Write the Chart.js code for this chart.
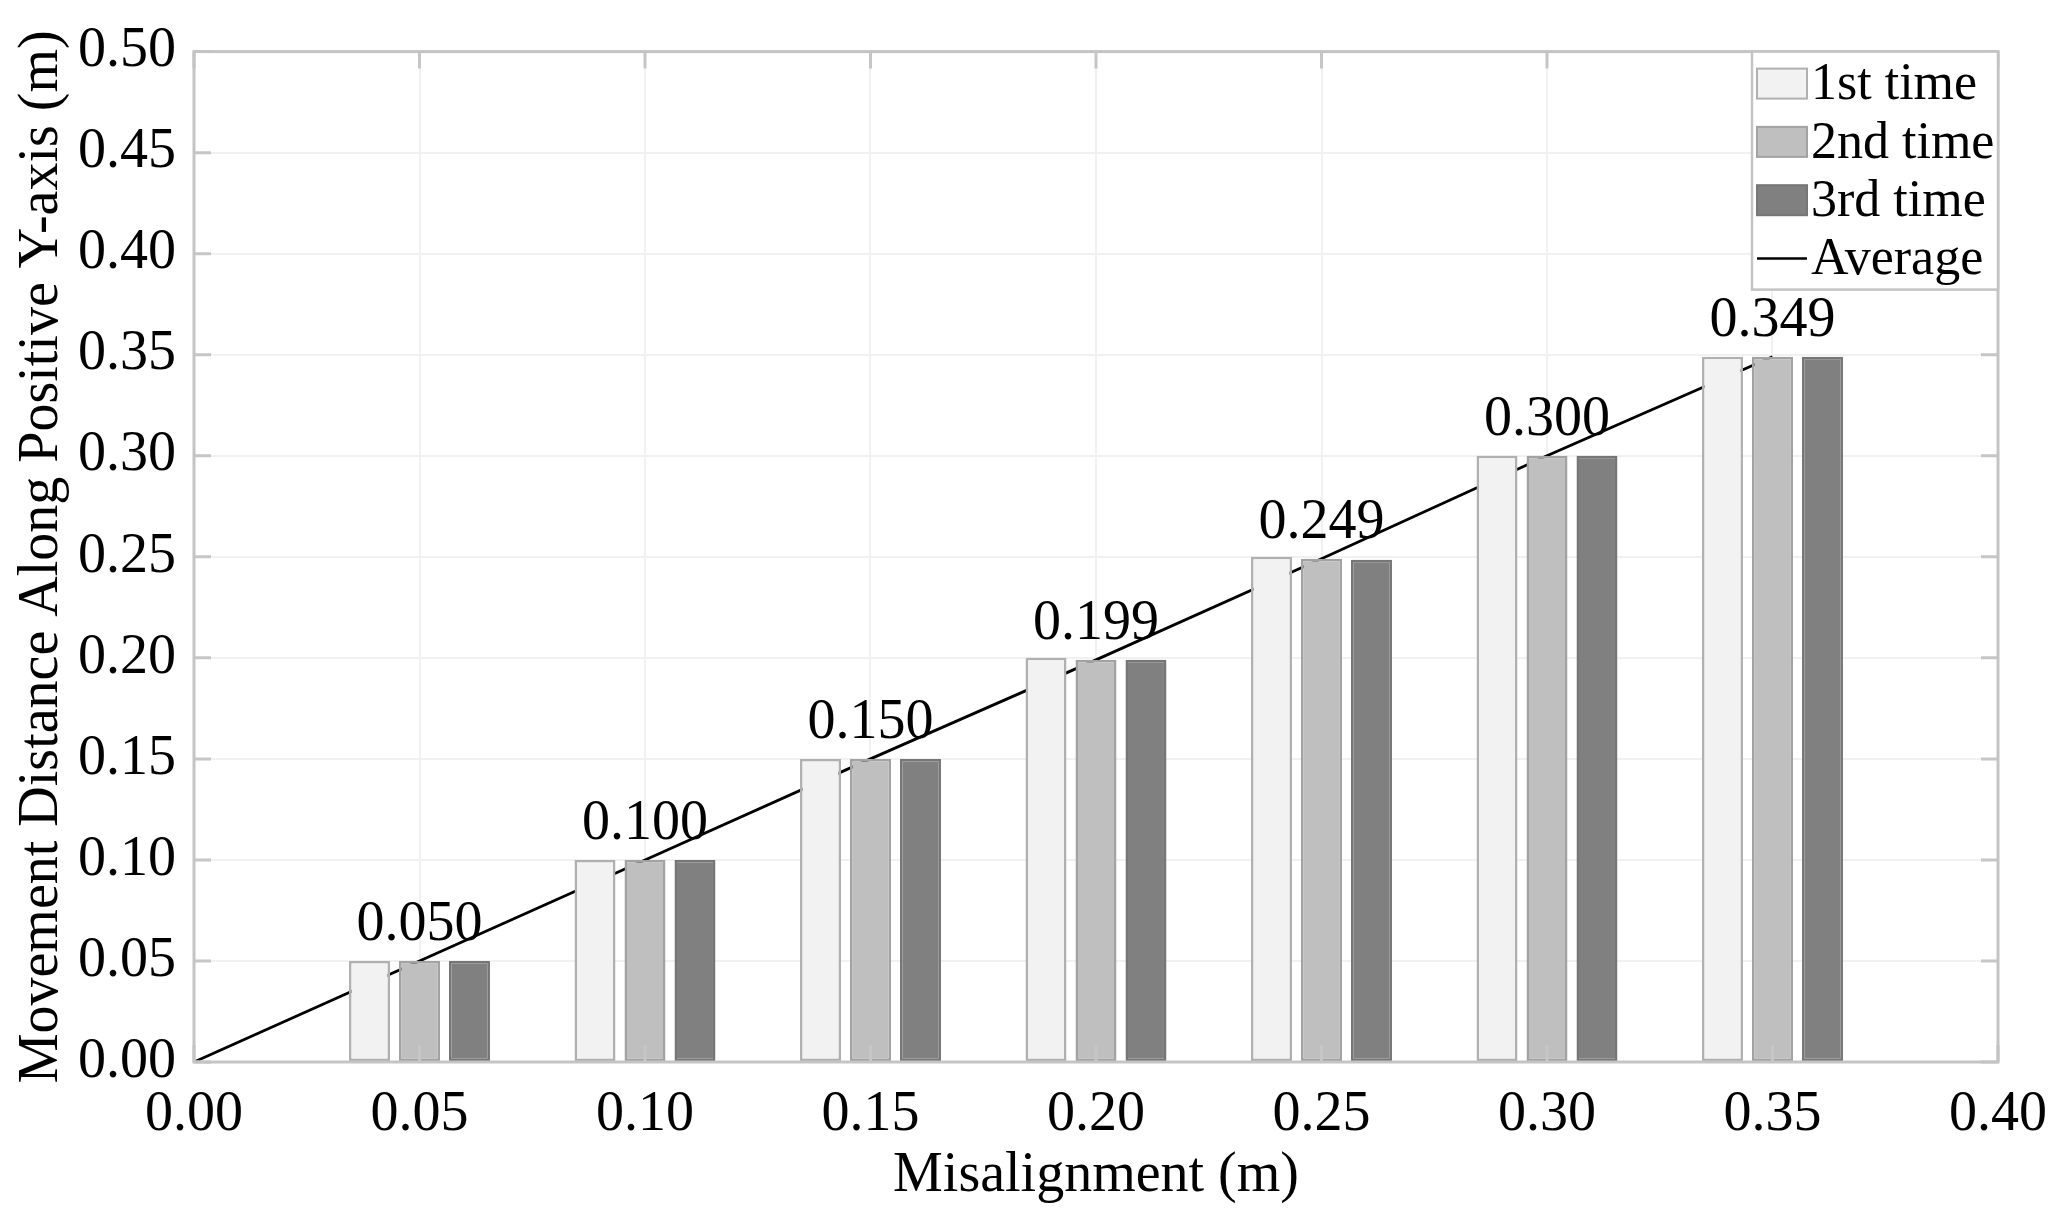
<!DOCTYPE html>
<html>
<head>
<meta charset="utf-8">
<script src="https://cdn.jsdelivr.net/npm/chart.js@4.4.1/dist/chart.umd.min.js"></script>
<style>
  html, body { margin: 0; padding: 0; background: #ffffff; }
  #wrap { width: 2068px; height: 1224px; }
</style>
</head>
<body>
<div id="wrap"><canvas id="c" width="2068" height="1224"></canvas></div>
<script>
// ---- data ----
const misalignment = [0.05, 0.10, 0.15, 0.20, 0.25, 0.30, 0.35];
const firstTime  = [0.050, 0.100, 0.150, 0.200, 0.250, 0.300, 0.349];
const secondTime = [0.050, 0.100, 0.150, 0.199, 0.249, 0.300, 0.349];
const thirdTime  = [0.050, 0.100, 0.150, 0.199, 0.2485, 0.300, 0.349];
const averageX = [0.00, 0.05, 0.10, 0.15, 0.20, 0.25, 0.30, 0.35];
const averageY = [0.000, 0.050, 0.100, 0.150, 0.199, 0.249, 0.300, 0.349];
const xTickValues = [0.00, 0.05, 0.10, 0.15, 0.20, 0.25, 0.30, 0.35, 0.40];
const yTickValues = [0.00, 0.05, 0.10, 0.15, 0.20, 0.25, 0.30, 0.35, 0.40, 0.45, 0.50];
const seriesLabels = ['1st time', '2nd time', '3rd time', 'Average'];

const FONT = 'Liberation Serif';
const pts = (xs, ys) => xs.map((x, i) => ({ x: x, y: ys[i] }));

const framePlugin = {
  id: 'frame',
  afterDatasetsDraw(chart) {
    const ctx = chart.ctx;
    const a = chart.chartArea;
    const xs = chart.scales.x, ys = chart.scales.y;
    ctx.save();
    // inner tick marks on all four sides
    ctx.strokeStyle = '#c6c6c6';
    ctx.lineWidth = 3;
    const tl = 17;
    ctx.beginPath();
    xs.ticks.forEach(t => {
      const px = xs.getPixelForValue(t.value);
      ctx.moveTo(px, a.bottom); ctx.lineTo(px, a.bottom - tl);
      ctx.moveTo(px, a.top); ctx.lineTo(px, a.top + tl);
    });
    ys.ticks.forEach(t => {
      const py = ys.getPixelForValue(t.value);
      ctx.moveTo(a.left, py); ctx.lineTo(a.left + tl, py);
      ctx.moveTo(a.right, py); ctx.lineTo(a.right - tl, py);
    });
    ctx.stroke();
    // frame
    ctx.strokeStyle = '#c4c4c4';
    ctx.lineWidth = 3;
    ctx.strokeRect(a.left, a.top, a.right - a.left, a.bottom - a.top);
    ctx.restore();
  }
};

const labelPlugin = {
  id: 'avgLabels',
  afterDatasetsDraw(chart) {
    const ctx = chart.ctx;
    const meta = chart.getDatasetMeta(3);
    ctx.save();
    ctx.font = '56px "' + FONT + '"';
    ctx.fillStyle = '#000';
    ctx.textAlign = 'center';
    ctx.textBaseline = 'alphabetic';
    meta.data.forEach((p, i) => {
      if (i === 0) return;
      ctx.fillText(averageY[i].toFixed(3), p.x, p.y - 21);
    });
    ctx.restore();
  }
};

const legendPlugin = {
  id: 'boxLegend',
  afterDraw(chart) {
    const ctx = chart.ctx;
    const a = chart.chartArea;
    const w = 246, h = 238;
    const x0 = a.right - w, y0 = a.top;
    ctx.save();
    ctx.fillStyle = '#ffffff';
    ctx.fillRect(x0, y0, w, h);
    ctx.strokeStyle = '#c4c4c4';
    ctx.lineWidth = 2.5;
    ctx.strokeRect(x0, y0, w, h);
    ctx.font = '52px "' + FONT + '"';
    ctx.textAlign = 'left';
    ctx.textBaseline = 'middle';
    chart.data.datasets.forEach((ds, i) => {
      const cy = y0 + 32 + i * 58.3;
      if (ds.type === 'line') {
        ctx.strokeStyle = ds.borderColor;
        ctx.lineWidth = 2.5;
        ctx.beginPath();
        ctx.moveTo(x0 + 5, cy); ctx.lineTo(x0 + 55, cy);
        ctx.stroke();
      } else {
        ctx.fillStyle = ds.backgroundColor;
        ctx.fillRect(x0 + 5, cy - 15, 50, 30);
        ctx.strokeStyle = ds.borderColor;
        ctx.lineWidth = 2;
        ctx.strokeRect(x0 + 5, cy - 15, 50, 30);
      }
      ctx.fillStyle = '#000';
      ctx.fillText(ds.label, x0 + 59, cy + 2);
    });
    ctx.restore();
  }
};

const barCommon = { categoryPercentage: 0.665, barPercentage: 0.82, borderWidth: 2.5, borderSkipped: false };

new Chart(document.getElementById('c'), {
  type: 'bar',
  data: {
    datasets: [
      Object.assign({ label: seriesLabels[0], data: pts(misalignment, firstTime),  backgroundColor: '#f2f2f2', borderColor: '#b0b0b0' }, barCommon),
      Object.assign({ label: seriesLabels[1], data: pts(misalignment, secondTime), backgroundColor: '#bfbfbf', borderColor: '#a2a2a2' }, barCommon),
      Object.assign({ label: seriesLabels[2], data: pts(misalignment, thirdTime),  backgroundColor: '#808080', borderColor: '#767676' }, barCommon),
      { type: 'line', label: seriesLabels[3], data: pts(averageX, averageY), borderColor: '#000000', borderWidth: 2.8, pointRadius: 0, fill: false, tension: 0 }
    ]
  },
  options: {
    responsive: false,
    devicePixelRatio: 1,
    animation: false,
    events: [],
    layout: { padding: { left: 0, top: 50, right: 70, bottom: 0 } },
    plugins: { legend: { display: false }, tooltip: { enabled: false } },
    scales: {
      x: {
        type: 'linear', min: 0, max: 0.4, offset: false,
        afterBuildTicks: s => { s.ticks = xTickValues.map(v => ({ value: v })); },
        afterFit: s => { s.height = 162; },
        grid: { offset: false, color: '#f1f1f1', lineWidth: 2, drawTicks: false },
        border: { display: false },
        ticks: { padding: 20, color: '#000', font: { family: FONT, size: 56 }, callback: v => Number(v).toFixed(2), maxRotation: 0, autoSkip: false },
        title: { display: true, text: 'Misalignment (m)', color: '#000', font: { family: FONT, size: 56 }, padding: { top: 0, bottom: 14 } }
      },
      y: {
        type: 'linear', min: 0, max: 0.5,
        afterBuildTicks: s => { s.ticks = yTickValues.map(v => ({ value: v })); },
        afterFit: s => { s.width = 194; },
        grid: { color: '#f1f1f1', lineWidth: 2, drawTicks: false },
        border: { display: false },
        ticks: { padding: 18, color: '#000', font: { family: FONT, size: 56 }, callback: v => Number(v).toFixed(2), autoSkip: false },
        title: { display: true, text: 'Movement Distance Along Positive Y-axis (m)', color: '#000', font: { family: FONT, size: 56 }, padding: { top: 9, bottom: 0 } }
      }
    }
  },
  plugins: [framePlugin, labelPlugin, legendPlugin]
});
</script>
</body>
</html>
